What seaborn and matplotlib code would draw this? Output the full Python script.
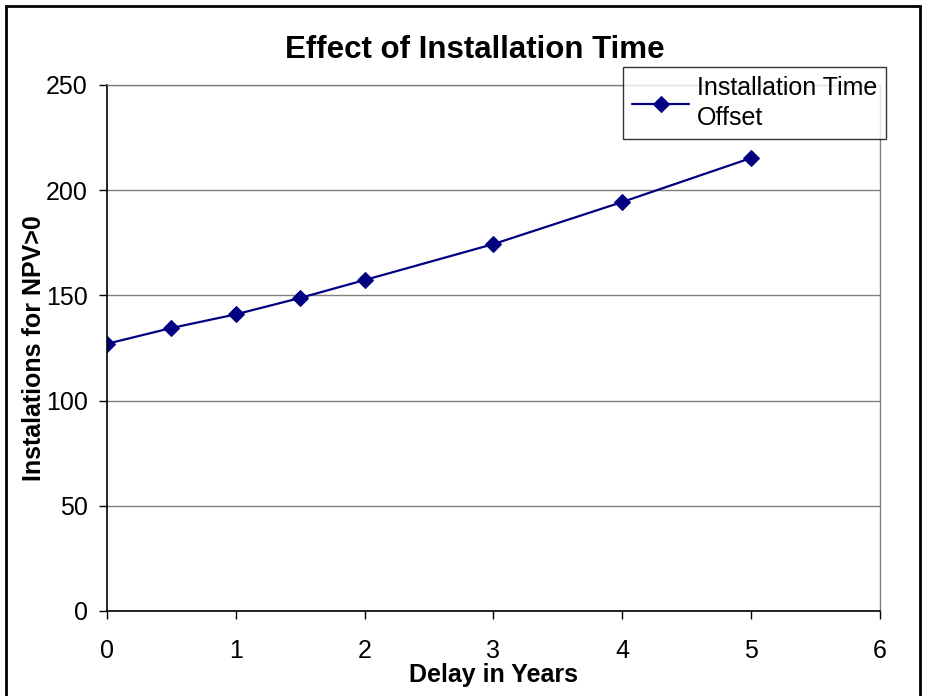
import matplotlib
matplotlib.use("Agg")
import matplotlib.pyplot as plt
import seaborn as sns
import pandas as pd
from matplotlib.patches import Rectangle

# values
delay_years = [0, 0.5, 1, 1.5, 2, 3, 4, 5]
installations = [127, 134.5, 141, 148.8, 157.3, 174.4, 194.4, 215.3]
series_name = "Installation Time\nOffset"

df = pd.DataFrame({"Delay": delay_years, "Installations": installations})

sns.set_style("white")
plt.rcParams["font.family"] = ["Liberation Sans", "DejaVu Sans"]
plt.rcParams["text.color"] = "black"
plt.rcParams["axes.labelcolor"] = "black"
plt.rcParams["xtick.color"] = "black"
plt.rcParams["ytick.color"] = "black"

fig = plt.figure(figsize=(9.25, 6.96), dpi=100)
ax = fig.add_axes([107 / 925, 1 - 611 / 696, (880 - 107) / 925, (611 - 85) / 696])

sns.lineplot(data=df, x="Delay", y="Installations", ax=ax, color="#000080",
             marker="D", markersize=8.5, markeredgecolor="#000080", linewidth=1.6,
             label=series_name)

ax.set_xlim(0, 6)
ax.set_ylim(0, 250)
ax.set_xticks(range(0, 7))
ax.set_yticks(range(0, 251, 50))
ax.yaxis.grid(True, color="#808080", linewidth=1)
ax.xaxis.grid(False)
ax.set_axisbelow(True)

for side in ["left", "bottom"]:
    ax.spines[side].set_color("black")
    ax.spines[side].set_linewidth(1.2)
for side in ["top", "right"]:
    ax.spines[side].set_color("#808080")
    ax.spines[side].set_linewidth(1)

ax.tick_params(axis="both", direction="out", length=6, width=1, labelsize=18,
               bottom=True, left=True)
ax.tick_params(axis="x", pad=14)
ax.tick_params(axis="y", pad=8)

ax.set_xlabel("Delay in Years", fontsize=18, fontweight="bold", labelpad=0)
ax.set_ylabel("Instalations for NPV>0", fontsize=18, fontweight="bold", labelpad=0)
fig.text(475 / 925, 1 - 50 / 696, "Effect of Installation Time", fontsize=22.5,
         fontweight="bold", ha="center", va="center")

leg = ax.legend(loc="upper left", bbox_to_anchor=(623 / 925, 1 - 67 / 696),
                bbox_transform=fig.transFigure, fontsize=18, frameon=True,
                fancybox=False, shadow=False, borderpad=0.35, handlelength=2.3,
                handletextpad=0.3, borderaxespad=0, labelspacing=0.3)
leg.get_frame().set_edgecolor("black")
leg.get_frame().set_linewidth(1)
for t in leg.get_texts():
    t.set_linespacing(1.35)

fig.patches.append(Rectangle((6 / 925, -0.02), 914 / 925, 1 - 6 / 696 + 0.02,
                             transform=fig.transFigure, fill=False,
                             edgecolor="black", linewidth=2))

fig.savefig("out.png", dpi=100)
